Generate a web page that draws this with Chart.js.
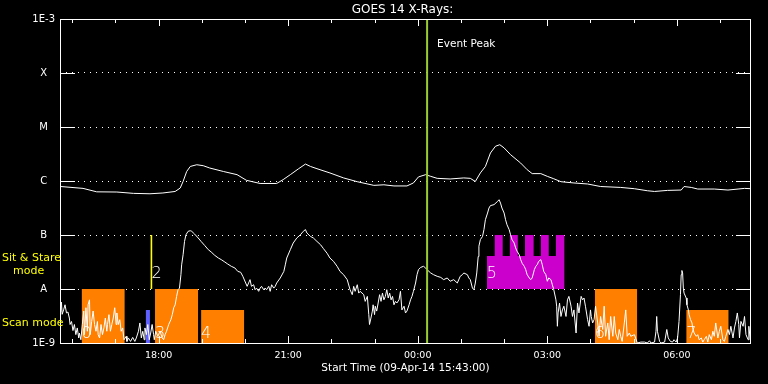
<!DOCTYPE html>
<html><head><meta charset="utf-8">
<script src="https://cdn.jsdelivr.net/npm/chart.js@4.4.1/dist/chart.umd.min.js"></script>
<style>html,body{margin:0;padding:0;background:#000;overflow:hidden}#wrap{width:768px;height:384px}</style>
</head><body><div id="wrap"><canvas id="c" width="768" height="384"></canvas></div>
<script>
// ---- text ----
const titleText = 'GOES 14 X-Rays:';
const xTitleText = 'Start Time (09-Apr-14 15:43:00)';
const eventText = 'Event Peak';
const stareText = ['Sit & Stare', 'mode'];
const scanText = 'Scan mode';

// ---- x axis: minutes after 15:43 ----
const spanMinutes = 960;
const xTickMinutes = [137, 317, 497, 677, 857];
const xTickLabels = ['18:00', '21:00', '00:00', '03:00', '06:00'];
const xHourMinutes = [17, 77, 137, 197, 257, 317, 377, 437, 497, 557, 617, 677, 737, 797, 857, 917];

// ---- y axis ----
const yTickValues = [1e-9, 1e-8, 1e-7, 1e-6, 1e-5, 1e-4, 1e-3];
const yTickLabels = ['1E-9', 'A', 'B', 'C', 'M', 'X', '1E-3'];

// ---- long channel (1-8 A) [minute, flux] ----
const longChannel = [
[1,7.9e-7],[32,7.3e-7],[51,6.3e-7],[79,6.25e-7],[102,5.9e-7],[125,5.8e-7],[143,6.0e-7],[160,6.4e-7],[167,7.4e-7],[171,9.8e-7],
[176,1.5e-6],[181,1.86e-6],[190,2.0e-6],[199,1.92e-6],[208,1.74e-6],[227,1.5e-6],[246,1.31e-6],[259,1.03e-6],[278,9.0e-7],[301,9.0e-7],
[310,1.06e-6],[320,1.31e-6],[331,1.67e-6],[341,2.06e-6],[348,1.86e-6],[357,1.69e-6],[375,1.41e-6],[394,1.14e-6],[413,9.7e-7],[436,8.3e-7],
[450,8.5e-7],[464,8.1e-7],[482,8.1e-7],[491,9.2e-7],[498,1.19e-6],[508,1.31e-6],[515,1.22e-6],[524,1.12e-6],[542,1.09e-6],[561,1.14e-6],
[570,1.12e-6],[577,9.8e-7],[584,1.41e-6],[591,1.86e-6],[598,3.3e-6],[605,4.4e-6],[611,4.7e-6],[617,4.1e-6],[626,3.07e-6],[640,2.15e-6],
[649,1.62e-6],[656,1.37e-6],[668,1.37e-6],[677,1.22e-6],[686,1.1e-6],[696,9.7e-7],[714,9.2e-7],[733,8.8e-7],[751,7.9e-7],[779,7.6e-7],
[798,7.2e-7],[816,6.6e-7],[826,6.4e-7],[844,6.7e-7],[863,6.8e-7],[867,7.9e-7],[877,7.6e-7],[886,7.1e-7],[909,7.1e-7],[928,6.8e-7],
[942,7.1e-7],[951,7.3e-7],[960,7.2e-7]
];

// ---- short channel (0.5-4 A) [minute, flux] ----
const shortChannel = [
[1,3.75e-9],[2,5.7e-9],[3,3.4e-9],[5,4.1e-9],[7,5.1e-9],[9,3.6e-9],[11,3.75e-9],[13,2.9e-9],[14,2.2e-9],[16,2.5e-9],
[18,1.7e-9],[20,2.2e-9],[22,1.43e-9],[24,1.9e-9],[26,1.24e-9],[27,1.53e-9],[29,1.15e-9],[31,2.2e-9],[33,3.9e-9],[34,1.43e-9],
[36,4.5e-9],[38,1.65e-9],[39,5.1e-9],[41,6.3e-9],[42,1.43e-9],[44,2.5e-9],[46,3.9e-9],[48,2.2e-9],[50,1.65e-9],[52,2.5e-9],
[53,1.43e-9],[55,1.24e-9],[57,2.2e-9],[59,1.43e-9],[61,1.9e-9],[63,2.9e-9],[65,1.65e-9],[66,2.2e-9],[68,3.35e-9],[70,1.65e-9],
[72,2.2e-9],[74,2.9e-9],[76,4.5e-9],[78,2.2e-9],[79,3.6e-9],[81,2.2e-9],[83,2.7e-9],[85,1.65e-9],[87,1.9e-9],[89,1.15e-9],
[92,1.33e-9],[93,1.07e-9],[95,1.24e-9],[98,1.07e-9],[101,1.27e-9],[104,1.07e-9],[106,1.24e-9],[109,1.65e-9],[111,2.35e-9],[113,1.24e-9],
[115,1.65e-9],[117,1.15e-9],[118,1.9e-9],[120,1.43e-9],[122,2.2e-9],[124,1.15e-9],[126,1.53e-9],[128,2.2e-9],[130,1.43e-9],[131,1.15e-9],
[133,1.65e-9],[136,1.33e-9],[139,1.65e-9],[142,1.24e-9],[144,1.15e-9],[146,1.43e-9],[148,1.65e-9],[151,2.2e-9],[154,2.7e-9],[156,3.35e-9],
[158,4.5e-9],[160,5.1e-9],[162,7.3e-9],[164,9.7e-9],[166,1.04e-8],[168,1.84e-8],[169,2.8e-8],[171,4.3e-8],[173,7.6e-8],[175,1.01e-7],
[178,1.17e-7],[181,1.2e-7],[183,1.17e-7],[187,1.04e-7],[192,8.8e-8],[196,7.6e-8],[201,6.4e-8],[206,5.35e-8],[210,4.85e-8],[215,4.2e-8],
[220,3.75e-8],[224,3.5e-8],[229,3.16e-8],[233,2.9e-8],[238,2.63e-8],[243,2.45e-8],[247,2.12e-8],[251,2.04e-8],[254,1.72e-8],[258,1.29e-8],
[260,1.12e-8],[262,1.29e-8],[264,1.49e-8],[266,1.12e-8],[269,1.2e-8],[271,9.7e-9],[273,1.04e-8],[276,9.05e-9],[278,1.04e-8],[280,1.12e-8],
[283,9.7e-9],[285,1.04e-8],[287,9.7e-9],[290,1.12e-8],[292,9.05e-9],[294,1.2e-8],[297,1.04e-8],[299,1.12e-8],[301,1.29e-8],[306,1.6e-8],
[311,2.12e-8],[313,2.8e-8],[315,3.75e-8],[320,5.35e-8],[324,7.1e-8],[329,8.8e-8],[334,1.01e-7],[338,1.17e-7],[341,1.26e-7],[343,1.09e-7],
[348,9.4e-8],[352,8.8e-8],[357,7.6e-8],[362,6.6e-8],[366,5.6e-8],[371,4.6e-8],[375,3.75e-8],[380,3.25e-8],[385,2.63e-8],[389,2.12e-8],
[394,1.84e-8],[399,1.49e-8],[403,9.7e-9],[406,7.85e-9],[408,1.12e-8],[410,9.05e-9],[413,1.2e-8],[415,8.4e-9],[417,9.05e-9],[422,7.85e-9],
[424,5.9e-9],[427,7.3e-9],[429,3.35e-9],[430,2.2e-9],[432,2.9e-9],[434,3.9e-9],[435,5.1e-9],[437,3.35e-9],[438,4.8e-9],[440,3.9e-9],
[442,5.5e-9],[444,7.85e-9],[446,5.9e-9],[448,8.4e-9],[450,6.3e-9],[452,7.3e-9],[454,9.7e-9],[456,6.8e-9],[458,8.4e-9],[460,6.3e-9],
[462,7.3e-9],[464,5.1e-9],[466,5.9e-9],[468,5.5e-9],[471,6.3e-9],[473,9.05e-9],[475,4.1e-9],[478,4.8e-9],[480,3.6e-9],[482,3.9e-9],
[485,5.1e-9],[487,6.3e-9],[489,7.3e-9],[491,9.05e-9],[494,1.29e-8],[496,1.84e-8],[498,2.28e-8],[501,2.51e-8],[505,2.63e-8],[508,2.45e-8],
[510,2.28e-8],[515,1.98e-8],[519,1.84e-8],[524,1.72e-8],[529,1.64e-8],[533,1.49e-8],[538,1.6e-8],[542,1.39e-8],[547,1.49e-8],[552,1.29e-8],
[556,1.72e-8],[559,1.84e-8],[561,1.98e-8],[566,1.84e-8],[568,1.6e-8],[570,1.49e-8],[573,1.04e-8],[575,9.7e-9],[577,1.29e-8],[579,1.98e-8],
[581,4.0e-8],[582,6.2e-8],[584,8.2e-8],[587,9.4e-8],[589,1.26e-7],[591,1.92e-7],[594,2.55e-7],[596,3.16e-7],[598,3.5e-7],[603,3.65e-7],
[608,4.2e-7],[610,4.5e-7],[612,3.9e-7],[614,3.16e-7],[617,2.55e-7],[619,1.92e-7],[621,1.55e-7],[624,1.26e-7],[626,1.01e-7],[628,8.2e-8],
[631,7.1e-8],[633,5.75e-8],[635,5.0e-8],[638,4.3e-8],[640,3.5e-8],[642,3.0e-8],[645,2.63e-8],[647,2.28e-8],[649,1.84e-8],[652,1.6e-8],
[654,1.49e-8],[656,1.6e-8],[659,2.28e-8],[661,2.63e-8],[663,2.82e-8],[665,3.25e-8],[668,3.5e-8],[670,2.82e-8],[672,2.12e-8],[675,1.84e-8],
[677,1.39e-8],[679,1.6e-8],[682,1.49e-8],[684,1.2e-8],[686,9.7e-9],[689,6.3e-9],[690,4.8e-9],[691,2.04e-9],[692,3.6e-9],[694,5.5e-9],
[696,3.1e-9],[698,4.1e-9],[700,4.8e-9],[703,3.1e-9],[705,6.3e-9],[707,7.3e-9],[710,4.8e-9],[712,3.1e-9],[714,4.1e-9],[717,1.53e-9],
[719,5.5e-9],[721,3.6e-9],[724,7.3e-9],[726,6.3e-9],[728,6.8e-9],[730,4.8e-9],[733,2.7e-9],[735,2.04e-9],[737,4.1e-9],[738,3.1e-9],
[740,2.35e-9],[742,2.7e-9],[744,4.8e-9],[747,2.35e-9],[749,1.33e-9],[751,3.1e-9],[754,1.78e-9],[756,4.8e-9],[758,1.33e-9],[761,2.35e-9],
[763,1.15e-9],[765,3.1e-9],[768,1.33e-9],[770,3.1e-9],[772,1.53e-9],[775,1.15e-9],[777,1.78e-9],[779,1.33e-9],[781,1.07e-9],[784,2.35e-9],
[786,4.1e-9],[788,1.33e-9],[791,1.53e-9],[793,1.33e-9],[798,1.43e-9],[802,1.0e-9],[807,1.04e-9],[812,1.04e-9],[816,1.0e-9],[819,1.1e-9],
[821,1.0e-9],[826,1.04e-9],[828,1.65e-9],[829,3.1e-9],[830,1.65e-9],[833,1.07e-9],[835,1.0e-9],[840,1.04e-9],[843,1.78e-9],[845,1.24e-9],
[848,1.07e-9],[851,1.04e-9],[853,1.15e-9],[856,1.04e-9],[858,1.24e-9],[860,2.51e-9],[862,7.85e-9],[863,1.84e-8],[864,2.2e-8],[865,1.98e-8],
[866,1.04e-8],[867,8.4e-9],[870,6.8e-9],[871,5.1e-9],[873,4.1e-9],[874,3.35e-9],[876,2.7e-9],[878,2.35e-9],[879,1.9e-9],[881,1.53e-9],
[884,1.33e-9],[886,1.43e-9],[888,1.15e-9],[891,1.24e-9],[893,1.04e-9],[895,1.15e-9],[898,1.33e-9],[900,1.04e-9],[902,1.43e-9],[905,1.15e-9],
[907,1.65e-9],[909,1.33e-9],[911,2.35e-9],[914,1.24e-9],[916,1.65e-9],[918,2.04e-9],[921,1.15e-9],[923,1.07e-9],[925,1.33e-9],[928,1.78e-9],
[930,1.43e-9],[932,2.04e-9],[935,1.24e-9],[937,1.9e-9],[939,2.51e-9],[941,3.6e-9],[943,2.2e-9],[944,1.24e-9],[946,2.51e-9],[949,2.04e-9],
[951,3.1e-9],[953,1.43e-9],[956,1.15e-9],[957,2.04e-9],[959,1.15e-9],[960,1.43e-9]
];

// ---- event peak ----
const eventPeakMinute = 510;

// ---- scan-mode blocks ----
const scanIds = ['0', '3', '4', '6', '7'];
const scanStart = [30, 132, 196, 743, 870];
const scanEnd = [90, 192, 256, 802, 929];
const scanTop = [1e-8, 1e-8, 4.1e-9, 1e-8, 4.1e-9];
const scanBase = 1e-9;

// ---- extra short interval (blue) ----
const blueStart = 119, blueEnd = 125, blueTop = 4.1e-9;

// ---- sit & stare blocks ----
const stareId = '5';
const stareTimes = [593, 604, 615, 625, 636, 646, 658, 668, 679, 689, 701];
const stareLevels = [4.1e-8, 1e-7, 4.1e-8, 1e-7, 4.1e-8, 1e-7, 4.1e-8, 1e-7, 4.1e-8, 1e-7, 1e-7];
const stareBase = 1e-8;
const markId = '2', markMinute = 127, markLow = 1e-8, markHigh = 1e-7;

// ---- build datasets ----
const pts = arr => arr.map(p => ({x: p[0], y: p[1]}));
const base = {pointRadius: 0, pointHoverRadius: 0, pointHitRadius: 0, tension: 0, spanGaps: true};
const datasets = [];
datasets.push(Object.assign({}, base, {data: [{x: eventPeakMinute, y: 1e-9}, {x: eventPeakMinute, y: 1e-3}], borderColor: '#9acd32', borderWidth: 2, order: 0}));
datasets.push(Object.assign({}, base, {data: pts(longChannel), borderColor: '#ffffff', borderWidth: 1, order: 1}));
datasets.push(Object.assign({}, base, {data: pts(shortChannel), borderColor: '#ffffff', borderWidth: 1, order: 1}));
datasets.push(Object.assign({}, base, {data: [{x: markMinute, y: markLow}, {x: markMinute, y: markHigh}], borderColor: '#ffff00', borderWidth: 1.6, order: 2}));
datasets.push(Object.assign({}, base, {data: [{x: blueStart, y: blueTop}, {x: blueEnd, y: blueTop}], borderWidth: 0, borderColor: 'rgba(0,0,0,0)', backgroundColor: '#6060ff', fill: {value: scanBase}, order: 3}));
scanIds.forEach((id, i) => {
  datasets.push(Object.assign({}, base, {data: [{x: scanStart[i], y: scanTop[i]}, {x: scanEnd[i], y: scanTop[i]}], borderWidth: 0, borderColor: 'rgba(0,0,0,0)', backgroundColor: '#ff8000', fill: {value: scanBase}, order: 3}));
});
datasets.push(Object.assign({}, base, {data: stareTimes.map((t, i) => ({x: t, y: stareLevels[i]})), stepped: true, borderWidth: 0, borderColor: 'rgba(0,0,0,0)', backgroundColor: '#cc00cc', fill: {value: stareBase}, order: 3}));

const FONT = '"DejaVu Sans", sans-serif';

const decor = {
  id: 'decor',
  afterDraw(chart) {
    const {ctx, chartArea: a, scales: {x, y}} = chart;
    ctx.save();
    ctx.setLineDash([]);
    ctx.strokeStyle = '#ffffff';
    ctx.lineWidth = 1;
    // frame
    ctx.strokeRect(a.left + 0.5, a.top + 0.5, a.right - a.left - 1, a.bottom - a.top);
    ctx.beginPath();
    // y decade ticks on both sides
    yTickValues.forEach(v => {
      const py = Math.round(y.getPixelForValue(v)) + 0.5;
      ctx.moveTo(a.left, py); ctx.lineTo(a.left + 15, py);
      ctx.moveTo(a.right - 15, py); ctx.lineTo(a.right, py);
    });
    // x hourly ticks top and bottom
    xHourMinutes.forEach(m => {
      const px = Math.round(x.getPixelForValue(m)) + 0.5;
      const len = xTickMinutes.includes(m) ? 7 : 4;
      ctx.moveTo(px, a.bottom); ctx.lineTo(px, a.bottom - len);
      ctx.moveTo(px, a.top); ctx.lineTo(px, a.top + len);
    });
    ctx.stroke();

    // title
    ctx.fillStyle = '#ffffff';
    ctx.font = '12px ' + FONT;
    ctx.textAlign = 'center';
    ctx.textBaseline = 'middle';
    ctx.fillText(titleText, (a.left + a.right) / 2 - 3, 10);

    // event peak
    ctx.textAlign = 'left';
    ctx.textBaseline = 'alphabetic';
    ctx.font = '10.5px ' + FONT;
    ctx.fillText(eventText, x.getPixelForValue(eventPeakMinute) + 10, a.top + 28);

    // mode captions
    const pB = y.getPixelForValue(1e-7), pA = y.getPixelForValue(1e-8);
    ctx.fillStyle = '#ffff00';
    ctx.font = '11px ' + FONT;
    ctx.textBaseline = 'middle';
    ctx.fillText(stareText[0], 2, pB + 23);
    ctx.fillText(stareText[1], 13, pB + 36);
    ctx.fillText(scanText, 2, pA + 34);

    // block labels
    ctx.fillStyle = '#ffffff';
    ctx.font = '200 16px ' + FONT;
    ctx.textBaseline = 'alphabetic';
    scanIds.forEach((id, i) => {
      ctx.fillText(id, x.getPixelForValue(scanStart[i]), a.bottom - 5);
    });
    ctx.fillText(stareId, x.getPixelForValue(stareTimes[0]), pA - 11);
    ctx.fillText(markId, x.getPixelForValue(markMinute), pA - 11);
    ctx.restore();
  }
};

new Chart(document.getElementById('c'), {
  type: 'line',
  data: {datasets},
  plugins: [decor],
  options: {
    responsive: false,
    animation: false,
    events: [],
    layout: {padding: {left: 0, right: 17, top: 19, bottom: 0}},
    plugins: {legend: {display: false}, tooltip: {enabled: false}, title: {display: false}},
    scales: {
      x: {
        type: 'linear', min: 0, max: spanMinutes,
        afterBuildTicks: s => { s.ticks = xTickMinutes.map(v => ({value: v})); },
        afterFit: s => { s.height = 41; },
        grid: {display: false, drawTicks: false},
        border: {display: false},
        ticks: {color: '#ffffff', font: {family: FONT, size: 9.5}, padding: 7, maxRotation: 0, autoSkip: false,
                callback: (v, i) => xTickLabels[i]},
        title: {display: true, text: xTitleText, color: '#ffffff', font: {family: FONT, size: 10.5}, padding: {top: 0, bottom: 9}}
      },
      y: {
        type: 'logarithmic', min: 1e-9, max: 1e-3,
        afterBuildTicks: s => { s.ticks = yTickValues.map(v => ({value: v})); },
        afterFit: s => { s.width = 60; },
        grid: {display: true, drawTicks: false, color: '#ffffff', lineWidth: 1},
        border: {display: false, dash: [1, 5]},
        ticks: {color: '#ffffff', font: {family: FONT, size: 10}, padding: 5, crossAlign: 'center', autoSkip: false,
                callback: (v, i) => yTickLabels[i]}
      }
    }
  }
});
</script>
</body></html>
